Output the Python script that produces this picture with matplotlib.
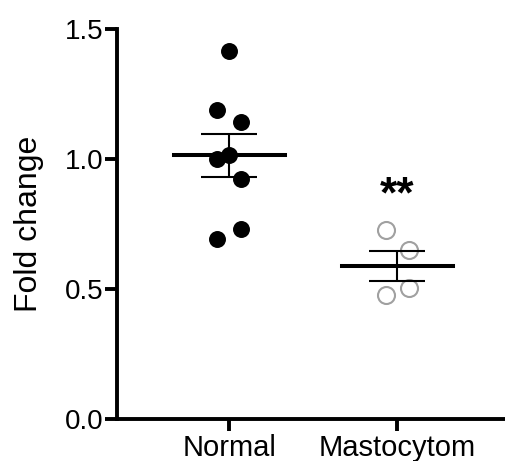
import numpy as np
import matplotlib.pyplot as plt

plt.rcParams['font.family'] = ['Liberation Sans', 'DejaVu Sans']

groups = ["Normal", "Mastocytom"]
normal = [1.417, 1.188, 1.142, 1.015, 0.999, 0.923, 0.732, 0.691]
normal_x = [0.0, -0.07, 0.07, 0.0, -0.07, 0.07, 0.07, -0.07]
masto = [0.726, 0.650, 0.505, 0.477]
masto_x = [-0.07, 0.07, 0.07, -0.07]
means = [1.014, 0.587]
sems = [0.083, 0.058]
yticks = [0.0, 0.5, 1.0, 1.5]

fig = plt.figure(figsize=(5.06, 4.61), dpi=100)
ax = fig.add_axes([0.2312, 0.0911, 0.7688, 0.846])

# punkte
ax.scatter(np.array(normal_x) + 0, normal, s=125, color="black", zorder=2)
ax.scatter(np.array(masto_x) + 1, masto, s=150, facecolor="white",
           edgecolor="#a0a0a0", linewidth=1.5, zorder=1)

# mittelwert + SEM
for i in range(2):
    ax.plot([i - 0.33, i + 0.33], [means[i], means[i]], color="black", lw=2.9, zorder=3)
    ax.errorbar(i, means[i], yerr=sems[i], fmt="none", ecolor="black",
                elinewidth=1.5, capsize=20, capthick=1.5, zorder=3)

ax.text(1, 0.815, "**", ha="center", va="baseline", fontsize=32, fontweight="bold")

ax.set_xlim(-0.668, 1.647)
ax.set_ylim(0, 1.5)
ax.set_xticks([0, 1])
ax.set_xticklabels(groups, fontsize=21)
ax.set_yticks(yticks)
ax.set_yticklabels(["%.1f" % t for t in yticks], fontsize=20)
ax.set_ylabel("Fold change", fontsize=23, labelpad=15)

for s in ["top", "right"]:
    ax.spines[s].set_visible(False)
for s in ["left", "bottom"]:
    ax.spines[s].set_linewidth(2.8)
ax.tick_params(width=2.8, length=8.5, direction="out")
ax.tick_params(axis="y", pad=1.5)
ax.tick_params(axis="x", pad=2)

fig.savefig("out.png", dpi=100)
